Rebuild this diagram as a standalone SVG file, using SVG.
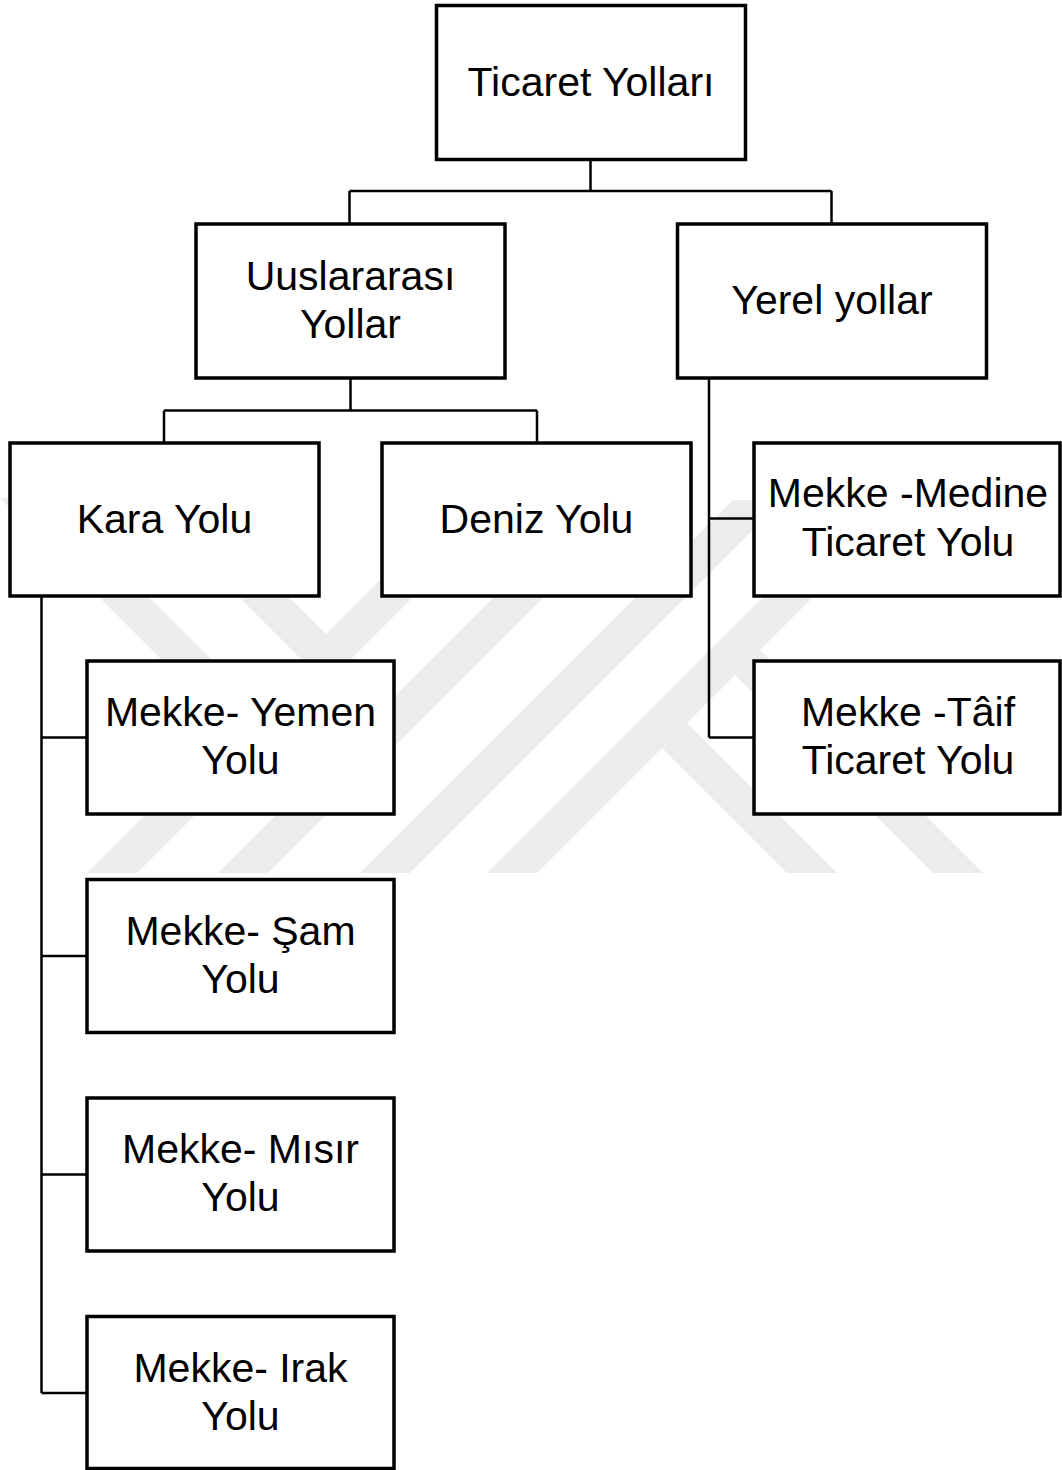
<svg xmlns="http://www.w3.org/2000/svg" width="1062" height="1470" viewBox="0 0 1062 1470">
  <style>
    .box { fill: #ffffff; stroke: #000000; stroke-width: 3.5; }
    .lbl { font-family: "Liberation Sans", Arial, sans-serif; font-size: 41px; fill: #000000; text-anchor: middle; }
    .conn { fill: none; stroke: #000000; stroke-width: 2.5; }
    .wm { fill: #ececec; }
  </style>
  <defs>
    <clipPath id="wmclip"><rect x="0" y="498" width="1062" height="375"/></clipPath>
  </defs>
  <rect x="0" y="0" width="1062" height="1470" fill="#ffffff"/>

  <g id="watermark" clip-path="url(#wmclip)">
    <polygon class="wm" points="460,500 510,500 137,873 87,873"/>
    <polygon class="wm" points="591,500 641,500 268,873 218,873"/>
    <polygon class="wm" points="733,500 783,500 410,873 360,873"/>
    <polygon class="wm" points="860,500 910,500 537,873 487,873"/>
    <polygon class="wm" points="142,500 192,500 326,634 326,684"/>
    <polygon class="wm" points="-4,494 52,500 321.5,769.5 321.5,819.5"/>
    <polygon class="wm" points="687,723 837,873 787,873 662,748"/>
    <polygon class="wm" points="760,650 983,873 933,873 735,675"/>
  </g>

  <g id="connectors">
    <path class="conn" d="M590.5,159 V191 M349.5,191 H831.5 M349.5,191 V224 M831.5,191 V224"/>
    <path class="conn" d="M350.5,378 V410.5 M164,410.5 H537 M164,410.5 V443 M537,410.5 V443"/>
    <path class="conn" d="M41.5,596 V1393 M41.5,737.5 H87 M41.5,956 H87 M41.5,1174.5 H87 M41.5,1393 H87"/>
    <path class="conn" d="M709,378 V737.5 M709,518.5 H754 M709,737.5 H754"/>
  </g>

  <g id="node-ticaret-yollari">
    <rect class="box" x="436.5" y="5.5" width="309" height="154"/>
    <text class="lbl" x="591" y="96">Ticaret Yolları</text>
  </g>
  <g id="node-uluslararasi">
    <rect class="box" x="196" y="224" width="309" height="154"/>
    <text class="lbl" x="350.5" y="290">Uuslararası</text>
    <text class="lbl" x="350.5" y="338">Yollar</text>
  </g>
  <g id="node-yerel">
    <rect class="box" x="677.5" y="224" width="309" height="154"/>
    <text class="lbl" x="832" y="314">Yerel yollar</text>
  </g>
  <g id="node-kara">
    <rect class="box" x="10" y="443" width="309" height="153"/>
    <text class="lbl" x="164.5" y="533">Kara Yolu</text>
  </g>
  <g id="node-deniz">
    <rect class="box" x="382" y="443" width="309" height="153"/>
    <text class="lbl" x="536.5" y="533">Deniz Yolu</text>
  </g>
  <g id="node-medine">
    <rect class="box" x="754" y="443" width="306" height="153"/>
    <text class="lbl" x="908" y="507">Mekke -Medine</text>
    <text class="lbl" x="908" y="556">Ticaret Yolu</text>
  </g>
  <g id="node-taif">
    <rect class="box" x="754" y="661" width="306" height="153"/>
    <text class="lbl" x="908" y="726">Mekke -Tâif</text>
    <text class="lbl" x="908" y="774">Ticaret Yolu</text>
  </g>
  <g id="node-yemen">
    <rect class="box" x="87" y="661" width="307" height="153"/>
    <text class="lbl" x="240.5" y="726">Mekke- Yemen</text>
    <text class="lbl" x="240.5" y="774">Yolu</text>
  </g>
  <g id="node-sam">
    <rect class="box" x="87" y="879.5" width="307" height="153"/>
    <text class="lbl" x="240.5" y="945">Mekke- Şam</text>
    <text class="lbl" x="240.5" y="993">Yolu</text>
  </g>
  <g id="node-misir">
    <rect class="box" x="87" y="1098" width="307" height="153"/>
    <text class="lbl" x="240.5" y="1163">Mekke- Mısır</text>
    <text class="lbl" x="240.5" y="1211">Yolu</text>
  </g>
  <g id="node-irak">
    <rect class="box" x="87" y="1316.5" width="307" height="152"/>
    <text class="lbl" x="240.5" y="1382">Mekke- Irak</text>
    <text class="lbl" x="240.5" y="1430">Yolu</text>
  </g>
</svg>
